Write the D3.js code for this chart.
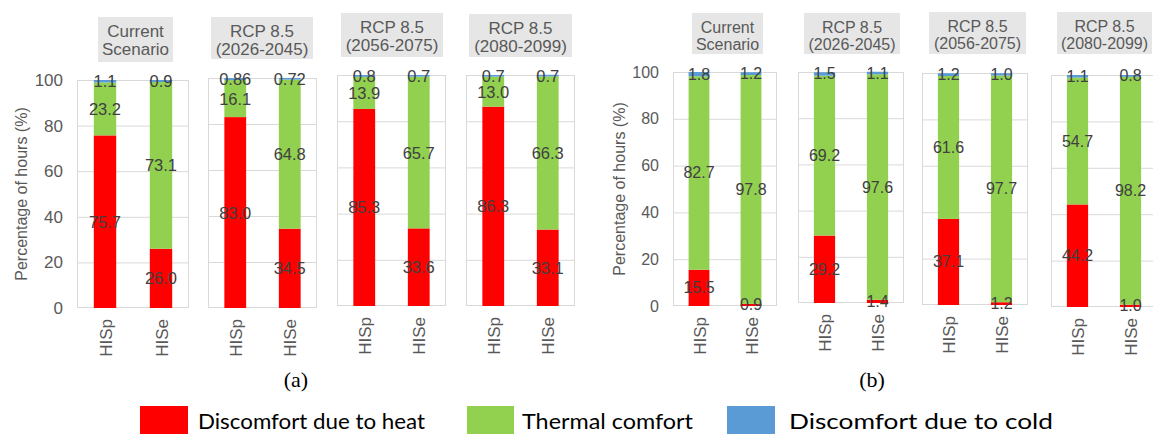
<!DOCTYPE html>
<html>
<head>
<meta charset="utf-8">
<script src="https://cdn.jsdelivr.net/npm/d3@7"></script>
<style>
  body { margin: 0; background: #fff; }
  svg { display: block; }
</style>
</head>
<body>
<svg id="chart" width="1153" height="435"></svg>
<script>
// ---- data ----
const sites = ["HISp", "HISe"];
const scenarioLines = [
  ["Current", "Scenario"],
  ["RCP 8.5", "(2026-2045)"],
  ["RCP 8.5", "(2056-2075)"],
  ["RCP 8.5", "(2080-2099)"]
];
const seriesNames = ["Discomfort due to heat", "Thermal comfort", "Discomfort due to cold"];
const yTicks = [0, 20, 40, 60, 80, 100];
const yTitle = "Percentage of hours (%)";
const panelLetters = ["(a)", "(b)"];

// panel (a): one [HISp, HISe] pair per scenario
const heatA    = [[75.7, 26.0], [83.0, 34.5], [85.3, 33.6], [86.3, 33.1]];
const comfortA = [[23.2, 73.1], [16.1, 64.8], [13.9, 65.7], [13.0, 66.3]];
const coldA    = [[1.1, 0.9], [0.86, 0.72], [0.8, 0.7], [0.7, 0.7]];

// panel (b)
const heatB    = [[15.5, 0.9], [29.2, 1.4], [37.1, 1.2], [44.2, 1.0]];
const comfortB = [[82.7, 97.8], [69.2, 97.6], [61.6, 97.7], [54.7, 98.2]];
const coldB    = [[1.8, 1.2], [1.5, 1.1], [1.2, 1.0], [1.1, 0.8]];

// ---- styling / layout ----
const colors = ["#FF0000", "#92D050", "#5B9BD5"];
const gridColor = "#d9d9d9";
const axisText = "#595959";
const valueText = "#404040";
const sans = "'Liberation Sans', Arial, sans-serif";

const panels = [
  {
    series: [heatA, comfortA, coldA],
    frames: [[77, 189, 80, 308], [208, 317, 78, 308], [337, 446, 75, 306], [466, 575, 75, 306]],
    heads: [[98, 173, 17, 62], [211, 313, 17, 59], [341, 443, 13, 57], [469, 572, 14, 57]],
    headFont: 17, headDy: [19.5, 38], tickFont: 17, valFont: 16.5, xFont: 17,
    titleX: 21, letterX: 296
  },
  {
    series: [heatB, comfortB, coldB],
    frames: [[673, 777, 72, 306], [798, 904, 72, 303], [922, 1028, 73, 305], [1051, 1157, 75, 307]],
    heads: [[692, 763, 13, 54], [804, 900, 13, 54], [929, 1026, 12, 54], [1057, 1152, 12, 54]],
    headFont: 16, headDy: [20, 37], tickFont: 16, valFont: 16, xFont: 17,
    titleX: 619, letterX: 872
  }
];

const fmt = v => (Math.abs(Math.round(v * 10) - v * 10) > 1e-6 ? v.toFixed(2) : v.toFixed(1));

const svg = d3.select("#chart");

panels.forEach((p, pi) => {
  const g = svg.append("g");

  p.frames.forEach((f, si) => {
    const [x0, x1, y0, y1] = f;
    const y = d3.scaleLinear().domain([0, 100]).range([y1, y0]);
    const x = d3.scaleBand().domain(sites).range([x0, x1]).paddingInner(0.6).paddingOuter(0.3);
    const sg = g.append("g");

    // header box
    const [hx0, hx1, hy0, hy1] = p.heads[si];
    sg.append("rect")
      .attr("x", hx0).attr("y", hy0).attr("width", hx1 - hx0).attr("height", hy1 - hy0)
      .attr("fill", "#e6e6e6");
    scenarioLines[si].forEach((line, li) => {
      sg.append("text")
        .attr("x", (hx0 + hx1) / 2).attr("y", hy0 + p.headDy[li])
        .attr("text-anchor", "middle")
        .attr("font-family", sans).attr("font-size", p.headFont)
        .attr("fill", axisText)
        .text(line);
    });

    // gridlines
    const grid = sg.append("g")
      .attr("transform", `translate(${x0},0)`)
      .call(d3.axisLeft(y).tickValues(yTicks.slice(1, -1)).tickSize(-(x1 - x0)).tickFormat(""));
    grid.select(".domain").remove();
    grid.selectAll("line").attr("stroke", gridColor);

    // frame
    sg.append("rect")
      .attr("x", x0 + 0.5).attr("y", y0 + 0.5)
      .attr("width", x1 - x0 - 1).attr("height", y1 - y0 - 1)
      .attr("fill", "none").attr("stroke", gridColor);

    // stacked bars
    const stacks = sites.map((s, i) => {
      let base = 0;
      return p.series.map((ser, k) => {
        const v = ser[si][i];
        const seg = { site: s, k, v, lo: base, hi: base + v };
        base += v;
        return seg;
      });
    }).flat();

    sg.selectAll("rect.seg").data(stacks).join("rect")
      .attr("class", "seg")
      .attr("x", d => x(d.site))
      .attr("width", x.bandwidth())
      .attr("y", d => y(d.hi))
      .attr("height", d => Math.max(y(d.lo) - y(d.hi), 0))
      .attr("fill", d => colors[d.k]);

    sg.selectAll("text.val").data(stacks).join("text")
      .attr("class", "val")
      .attr("x", d => x(d.site) + x.bandwidth() / 2)
      .attr("y", d => y((d.lo + d.hi) / 2))
      .attr("text-anchor", "middle")
      .attr("dominant-baseline", "central")
      .attr("font-family", sans).attr("font-size", p.valFont)
      .attr("fill", valueText)
      .text(d => fmt(d.v));

    // category labels
    sg.selectAll("text.cat").data(sites).join("text")
      .attr("class", "cat")
      .attr("transform", d => `translate(${x(d) + x.bandwidth() / 2 + 1},${y1 + 11}) rotate(-90)`)
      .attr("text-anchor", "end")
      .attr("dominant-baseline", "central")
      .attr("font-family", sans).attr("font-size", p.xFont)
      .attr("fill", axisText)
      .text(d => d);

    // y axis on the first subplot
    if (si === 0) {
      const ax = sg.append("g")
        .attr("transform", `translate(${x0},0)`)
        .call(d3.axisLeft(y).tickValues(yTicks).tickSize(0).tickPadding(14));
      ax.select(".domain").remove();
      ax.selectAll("text")
        .attr("font-family", sans).attr("font-size", p.tickFont)
        .attr("fill", axisText);

      g.append("text")
        .attr("transform", `translate(${p.titleX},${(y0 + y1) / 2}) rotate(-90)`)
        .attr("text-anchor", "middle")
        .attr("dominant-baseline", "central")
        .attr("font-family", sans).attr("font-size", 16)
        .attr("fill", axisText)
        .text(yTitle);
    }
  });

  g.append("text")
    .attr("x", p.letterX).attr("y", 387)
    .attr("text-anchor", "middle")
    .attr("font-family", "'Liberation Serif', 'Times New Roman', serif")
    .attr("font-size", 22)
    .attr("fill", "#000")
    .text(panelLetters[pi]);
});

// legend
const legendLayout = [
  { rx: 140, rw: 48, tx: 198, tw: 227 },
  { rx: 467, rw: 47, tx: 522, tw: 171 },
  { rx: 727, rw: 48, tx: 789, tw: 264 }
];
const lg = svg.append("g");
seriesNames.forEach((name, i) => {
  const l = legendLayout[i];
  lg.append("rect")
    .attr("x", l.rx).attr("y", 406).attr("width", l.rw).attr("height", 28)
    .attr("fill", colors[i]);
  lg.append("text")
    .attr("x", l.tx).attr("y", 429)
    .attr("font-family", "Lato, 'Open Sans', sans-serif")
    .attr("font-size", 21)
    .attr("fill", "#000")
    .attr("textLength", l.tw)
    .attr("lengthAdjust", "spacingAndGlyphs")
    .text(name);
});
</script>
</body>
</html>
